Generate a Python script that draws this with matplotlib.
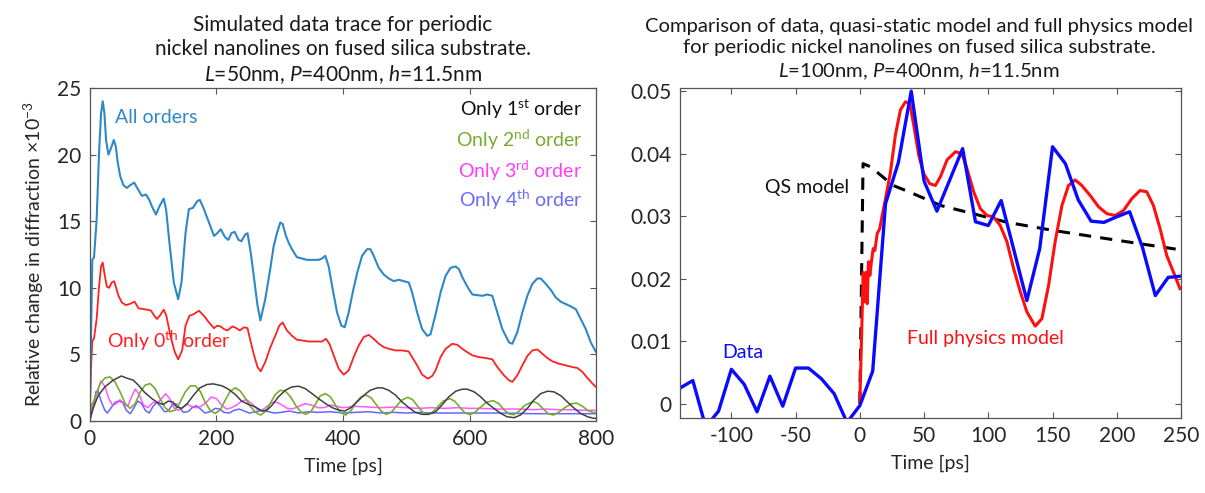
import numpy as np
import matplotlib
matplotlib.use("Agg")
import matplotlib.pyplot as plt

plt.rcParams['font.family'] = ['Lato', 'DejaVu Sans']
plt.rcParams['mathtext.fontset'] = 'custom'
plt.rcParams['mathtext.rm'] = 'Lato'
plt.rcParams['mathtext.it'] = 'Lato:italic'
plt.rcParams['axes.unicode_minus'] = False

# ---------------- left panel: simulated traces (y in units of 1e-3) ----------------
t_all = [0, 2, 4.2, 6.9, 11, 14.8, 18, 20.6, 23.3, 25.9, 29.6, 33.9, 38.1, 41.3, 44.4, 48.1, 53.4, 58.7, 64,
         70.4, 76.2, 82.5, 88.9, 94.2, 98.4, 104.7, 110, 116.9, 120.6, 125.9, 132.8, 139.7, 145, 151.3, 156.6,
         163, 169.8, 174, 180.4, 188.3, 196.3, 201.5, 206.8, 213.7, 219, 223.8, 229, 234.9, 239.6, 245.5, 249.2,
         254.4, 259.7, 265, 269.5, 277.2, 285, 290.4, 295.6, 300.9, 304.6, 309.8, 314, 319.3, 327.2, 335.1, 343,
         351, 361.5, 366.8, 372, 377.3, 383.6, 390.5, 397.3, 402.6, 408.9, 415.2, 422.1, 430, 437.9, 443.1,
         448.4, 456.3, 464.2, 472.1, 480, 487.9, 495.8, 503.7, 509, 516.9, 524.8, 532.7, 538, 546, 553.9, 561.8,
         569.7, 577.6, 582.9, 588.2, 596, 604, 611.9, 619.8, 627.7, 635.6, 643.5, 651.4, 662, 667.2, 675.1, 683,
         690.9, 698.8, 706.7, 712, 719.9, 727.8, 735.7, 743.6, 751.5, 759.4, 767.3, 775.2, 783.1, 791, 799]
y_all = [0.2, 6, 12.1, 12.3, 15.1, 20.1, 23.1, 24.0, 23.1, 21.1, 20.0, 20.5, 21.1, 20.6, 19.4, 18.4, 17.7, 17.5,
         17.7, 17.9, 17.4, 16.9, 17.0, 16.6, 16.1, 15.5, 16.1, 16.7, 15.9, 13.4, 10.4, 9.15, 10.4, 14.1, 15.9,
         16.0, 16.5, 16.6, 15.9, 14.9, 13.9, 14.1, 14.4, 13.8, 13.6, 14.1, 14.2, 13.6, 13.5, 14.0, 14.1, 12.6,
         10.6, 8.66, 7.55, 9.15, 11.4, 13.1, 14.1, 14.9, 14.8, 13.9, 13.4, 12.9, 12.3, 12.2, 12.1, 12.1, 12.1,
         12.2, 12.4, 11.6, 9.9, 8.16, 7.16, 7.04, 8.16, 9.65, 11.1, 12.4, 12.9, 12.9, 12.4, 11.5, 11.0, 10.7,
         10.5, 10.6, 10.5, 10.4, 9.65, 8.16, 6.9, 6.4, 6.5, 8.0, 9.65, 10.9, 11.5, 11.6, 11.4, 10.8, 10.1, 9.5,
         9.45, 9.4, 9.5, 9.4, 8.16, 6.9, 5.9, 5.8, 6.67, 8.16, 9.4, 10.3, 10.7, 10.7, 10.3, 9.85, 9.28, 8.96,
         8.78, 8.6, 8.4, 7.66, 6.9, 5.9, 5.2]

t_o0 = [0, 2.1, 4.2, 6.9, 11.1, 14.8, 18, 20.6, 23.3, 27, 30.7, 34.9, 38.6, 41.8, 45.5, 50.8, 57.1, 64, 70.9,
        77.2, 85.2, 90.5, 96.8, 102, 106.3, 111.6, 116.9, 121.1, 127.5, 134.4, 139.7, 146, 151.3, 157.6, 164.5,
        172.5, 180.4, 188.3, 196.3, 201.5, 206.8, 212.1, 217.4, 225.4, 230.6, 237, 243.9, 249.2, 254.4, 259.7,
        265, 270, 277.2, 285, 293, 299.3, 304.6, 311.4, 319.3, 327.2, 335.1, 345.6, 356.2, 366.8, 373.1, 378.4,
        385.2, 393.1, 401, 408.9, 416.8, 424.7, 432.6, 440.5, 448.4, 456.3, 464.2, 472.1, 482.6, 493.2, 503.7,
        509, 516.9, 524.8, 534, 540.6, 546, 553.9, 561.8, 572.4, 580.3, 588.2, 596, 604, 614.5, 625, 635.6,
        643.5, 654, 662, 667.2, 675.1, 683, 690.9, 698.8, 706.7, 714.6, 722.5, 730.4, 741, 751.5, 762, 770,
        777.9, 785.8, 793.7, 799]
y_o0 = [0.1, 3.9, 6.0, 6.2, 7.7, 10.1, 11.6, 11.9, 11.1, 10.1, 10.0, 10.4, 10.5, 10.0, 9.4, 8.9, 8.7, 8.8, 8.96,
        8.46, 8.4, 8.36, 8.3, 7.9, 7.66, 7.96, 8.36, 7.9, 6.4, 5.17, 4.63, 5.3, 7.16, 7.9, 8.03, 8.28, 7.9, 7.4,
        6.97, 7.16, 7.1, 6.9, 6.8, 7.1, 7.0, 6.8, 7.04, 6.97, 5.9, 4.9, 4.05, 3.73, 4.43, 5.5, 6.4, 7.16, 7.4,
        6.8, 6.4, 6.1, 6.05, 5.97, 5.97, 5.97, 6.17, 5.8, 4.93, 3.93, 3.48, 3.8, 4.8, 5.67, 6.3, 6.47, 6.17, 5.8,
        5.55, 5.42, 5.3, 5.3, 5.22, 4.8, 4.18, 3.48, 3.18, 3.38, 3.8, 4.8, 5.42, 5.8, 5.72, 5.42, 5.17, 4.93,
        4.8, 4.73, 4.63, 4.05, 3.43, 3.06, 2.94, 3.43, 4.18, 4.88, 5.3, 5.37, 5.05, 4.73, 4.48, 4.3, 4.18, 4.05,
        3.98, 3.68, 3.23, 2.81, 2.56]

t_o1 = [0, 5, 10, 14, 24, 37, 50, 58, 69, 77, 87, 98, 107, 116, 124, 131, 137, 145, 153, 164, 174, 185, 195,
        209, 219, 230, 240, 251, 261, 272, 280, 288, 298, 309, 319, 330, 340, 351, 361, 372, 383, 393, 403, 412,
        422, 433, 443, 454, 462, 472, 483, 493, 504, 514, 525, 535, 546, 556, 567, 578, 588, 596, 607, 617, 628,
        638, 649, 659, 670, 680, 691, 701, 712, 723, 733, 744, 754, 765, 775, 786, 796, 800]
y_o1 = [0, 0.9, 1.5, 1.94, 2.56, 3.06, 3.38, 3.23, 3.06, 2.69, 2.14, 1.69, 1.39, 1.24, 1.49, 1.44, 1.07, 0.95,
        1.24, 1.94, 2.49, 2.74, 2.79, 2.64, 2.39, 1.99, 1.49, 1.24, 1.07, 0.75, 0.82, 1.19, 1.82, 2.31, 2.56,
        2.61, 2.44, 2.06, 1.69, 1.32, 1.0, 0.82, 0.75, 1.0, 1.44, 1.94, 2.31, 2.49, 2.49, 2.31, 1.94, 1.44, 1.0,
        0.65, 0.5, 0.5, 0.7, 1.19, 1.82, 2.24, 2.39, 2.39, 2.19, 1.82, 1.32, 0.95, 0.57, 0.32, 0.25, 0.45, 0.95,
        1.57, 2.06, 2.24, 2.19, 1.89, 1.44, 0.95, 0.57, 0.32, 0.2, 0.2]

t_o2 = [0, 3, 8.4, 16.3, 24.2, 32, 40, 48, 56, 64, 72, 80, 87.5, 95.4, 103.3, 111, 119, 127, 135, 143, 151, 159,
        167, 175, 182, 190, 198, 206, 214, 222, 230, 238, 246, 254, 262, 270, 277, 285, 293, 301, 309, 317, 325,
        333, 341, 349, 357, 364, 372, 380, 388, 396, 404, 412, 420, 428, 436, 444, 452, 460, 468, 476, 484, 492,
        502, 510, 518, 526, 534, 542, 550, 558, 568, 576, 584, 592, 600, 608, 616, 626, 637, 646, 654, 662, 670,
        678, 686, 700, 708, 716, 724, 732, 740, 750, 760, 769, 778, 786, 794, 800]
y_o2 = [0.07, 1.2, 1.7, 2.8, 3.23, 3.31, 2.94, 2.19, 1.32, 0.95, 1.32, 2.19, 2.69, 2.81, 2.44, 1.69, 1.0, 0.7,
        0.82, 1.44, 2.19, 2.64, 2.64, 2.19, 1.44, 0.82, 0.57, 0.82, 1.57, 2.24, 2.49, 2.24, 1.69, 1.07, 0.65,
        0.45, 0.7, 1.32, 1.99, 2.31, 2.24, 1.82, 1.19, 0.7, 0.5, 0.7, 1.32, 1.89, 2.06, 1.82, 1.19, 0.65, 0.45,
        0.75, 1.35, 1.8, 1.95, 1.75, 1.25, 0.75, 0.5, 0.65, 1.1, 1.55, 1.78, 1.6, 1.1, 0.65, 0.5, 0.7, 1.1, 1.5,
        1.68, 1.5, 1.05, 0.62, 0.48, 0.65, 1.0, 1.4, 1.53, 1.3, 0.85, 0.52, 0.48, 0.75, 1.15, 1.48, 1.3, 0.9,
        0.55, 0.45, 0.65, 1.0, 1.3, 1.34, 1.1, 0.8, 0.65, 0.6]

t_o3 = [0, 6, 12, 18, 24, 30, 36, 42, 48, 54, 60, 66, 72, 78, 85, 92, 100, 108, 114, 120, 126, 133, 140, 147,
        153, 160, 168, 176, 184, 192, 200, 208, 216, 224, 232, 240, 248, 256, 264, 272, 280, 288, 296, 304, 312,
        320, 330, 340, 350, 360, 370, 380, 390, 400, 420, 440, 460, 480, 500, 520, 540, 560, 580, 600, 620, 640,
        660, 680, 700, 720, 740, 760, 780, 800]
y_o3 = [0, 1.0, 2.2, 3.0, 2.6, 1.7, 1.2, 1.3, 1.6, 1.3, 1.1, 1.8, 2.4, 2.0, 1.2, 1.0, 1.4, 1.4, 1.7, 2.05, 1.7,
        1.0, 0.8, 1.0, 1.3, 1.1, 1.0, 1.1, 1.4, 1.8, 1.7, 1.2, 0.9, 1.0, 1.2, 1.5, 1.6, 1.3, 0.9, 0.8, 1.1, 1.4,
        1.4, 1.2, 0.95, 0.9, 1.1, 1.3, 1.2, 1.0, 1.0, 1.2, 1.1, 1.0, 1.1, 1.05, 1.0, 1.05, 1.0, 0.95, 1.0, 0.95,
        1.0, 0.95, 0.95, 0.9, 0.9, 0.9, 0.85, 0.9, 0.85, 0.85, 0.8, 0.8]

t_o4 = [0, 5, 10, 13, 18, 24, 28, 34, 40, 46, 52, 58, 64, 70, 76, 82, 88, 94, 100, 106, 112, 118, 124, 130, 136,
        142, 148, 155, 162, 168, 175, 182, 190, 198, 205, 212, 220, 228, 236, 244, 252, 262, 272, 282, 292, 302,
        315, 330, 345, 360, 380, 400, 420, 440, 460, 480, 500, 520, 540, 560, 600, 650, 700, 750, 800]
y_o4 = [0, 1.0, 2.2, 2.3, 1.5, 0.8, 0.6, 1.0, 1.4, 1.5, 1.4, 0.8, 0.55, 1.0, 1.5, 1.3, 0.8, 0.6, 1.1, 1.4, 1.1,
        0.7, 0.75, 1.2, 1.3, 1.0, 0.65, 0.7, 1.0, 1.15, 0.9, 0.6, 0.7, 0.95, 0.9, 0.65, 0.6, 0.8, 0.9, 0.75, 0.6,
        0.7, 0.8, 0.7, 0.6, 0.65, 0.75, 0.6, 0.7, 0.65, 0.7, 0.6, 0.65, 0.7, 0.6, 0.65, 0.6, 0.65, 0.6, 0.6, 0.6,
        0.6, 0.55, 0.55, 0.55]

# ---------------- right panel: data vs models ----------------
t_data = list(range(-140, 251, 10))
y_data = [0.0025, 0.0037, -0.0037, -0.0012, 0.0055, 0.0031, -0.0013, 0.0044, -0.0004, 0.0057, 0.0057, 0.0040,
          0.0016, -0.0030, -0.0003, 0.0052, 0.0320, 0.0386, 0.0500, 0.0356, 0.0308, 0.0358, 0.0408, 0.0291,
          0.0285, 0.0325, 0.0245, 0.0165, 0.0248, 0.0411, 0.0384, 0.0326, 0.0292, 0.0290, 0.0299, 0.0307,
          0.0250, 0.0173, 0.0202, 0.0204]

t_full = [0, 1.3, 2.6, 3.6, 4.7, 5.7, 6.7, 7.8, 9, 10.4, 11.7, 13.5, 15.5, 17.4, 20, 23.8, 27.7, 31.6, 35.5,
          38.9, 42, 45.9, 49.7, 54.4, 58.8, 62.7, 67.9, 74.4, 79.5, 83.4, 88.6, 93.8, 99, 104, 109.3, 114.5,
          119.7, 124.9, 130, 136.5, 141.7, 146.9, 152, 157.3, 162.4, 167.6, 172.8, 179.3, 185.8, 192.2, 198.7,
          205.2, 211.7, 218.1, 223.3, 228.5, 233.7, 238.9, 244, 249.2]
y_full = [0.0003, 0.0104, 0.0210, 0.0163, 0.0210, 0.0160, 0.0227, 0.0205, 0.0227, 0.0248, 0.0245, 0.0272,
          0.0280, 0.0301, 0.0328, 0.0370, 0.0430, 0.0470, 0.0483, 0.0480, 0.0445, 0.0397, 0.0368, 0.0352,
          0.0349, 0.0363, 0.0390, 0.0403, 0.0400, 0.0376, 0.0339, 0.0312, 0.0301, 0.0299, 0.0285, 0.0259,
          0.0216, 0.0179, 0.0147, 0.0124, 0.0136, 0.0189, 0.0259, 0.0317, 0.0349, 0.0358, 0.0349, 0.0333,
          0.0315, 0.0304, 0.0301, 0.0309, 0.0328, 0.0341, 0.0339, 0.0317, 0.0280, 0.0237, 0.0211, 0.0184]

t_qs = [0, 2.5, 8.3, 26, 37, 63, 115, 151, 192, 250]
y_qs = [0.0, 0.0384, 0.0379, 0.0349, 0.0340, 0.0317, 0.0290, 0.0277, 0.0264, 0.0246]

AX_COL = '#262626'

fig = plt.figure(figsize=(12.05, 4.93), dpi=100)
ax1 = fig.add_axes([0.0744, 0.146, 0.4206, 0.6755])
ax2 = fig.add_axes([0.5643, 0.152, 0.4158, 0.6695])


def style_axes(ax):
    for s in ax.spines.values():
        s.set_color('#555555')
        s.set_linewidth(0.9)
    ax.tick_params(direction='in', length=4, width=0.8, colors='#555555', labelcolor=AX_COL,
                   labelsize=15, top=True, right=True, pad=6)


# left panel
ax1.plot(t_o4, y_o4, color='#4a4aff', lw=1.1, alpha=0.85)
ax1.plot(t_o3, y_o3, color='#ff3cff', lw=1.1, alpha=0.85)
ax1.plot(t_o2, y_o2, color='#77ac30', lw=1.2)
ax1.plot(t_o1, y_o1, color='#404040', lw=1.1)
ax1.plot(t_o0, y_o0, color='#ff2020', lw=1.3)
ax1.plot(t_all, y_all, color='#2e88c8', lw=1.5)
ax1.set_xlim(0, 800)
ax1.set_ylim(0, 25)
ax1.set_xticks([0, 200, 400, 600, 800])
ax1.set_yticks([0, 5, 10, 15, 20, 25])
style_axes(ax1)
ax1.set_xlabel('Time [ps]', fontsize=14, color=AX_COL, labelpad=6)
ax1.set_ylabel('Relative change in diffraction $\\times$10$^{-3}$', fontsize=14, color=AX_COL, labelpad=8)
ax1.set_title('Simulated data trace for periodic\nnickel nanolines on fused silica substrate.\n'
              '$\\mathit{L}$=50nm, $\\mathit{P}$=400nm, $\\mathit{h}$=11.5nm',
              fontsize=15, color='#1a1a1a', linespacing=1.25, pad=5)

ax1.text(40, 22.8, 'All orders', color='#2e88c8', fontsize=14, va='center')
ax1.text(27, 6.0, 'Only 0$^{\\mathrm{th}}$ order', color='#ff2020', fontsize=14, va='center')
ax1.text(778, 23.4, 'Only 1$^{\\mathrm{st}}$ order', color='#111111', fontsize=14, va='center', ha='right')
ax1.text(778, 21.1, 'Only 2$^{\\mathrm{nd}}$ order', color='#77ac30', fontsize=14, va='center', ha='right')
ax1.text(778, 18.8, 'Only 3$^{\\mathrm{rd}}$ order', color='#ff3cff', fontsize=14, va='center', ha='right')
ax1.text(778, 16.6, 'Only 4$^{\\mathrm{th}}$ order', color='#6a6aff', fontsize=14, va='center', ha='right')

# right panel
ax2.plot(t_qs, y_qs, color='black', lw=2.2, ls=(0, (4, 3)))
ax2.plot(t_full, y_full, color='#ff1010', lw=2.2)
ax2.plot(t_data, y_data, color='#0a0aff', lw=2.4)
ax2.set_xlim(-140, 250)
ax2.set_ylim(-0.0023, 0.0505)
ax2.set_xticks([-100, -50, 0, 50, 100, 150, 200, 250])
ax2.set_yticks([0, 0.01, 0.02, 0.03, 0.04, 0.05])
ax2.set_yticklabels(['0', '0.01', '0.02', '0.03', '0.04', '0.05'])
style_axes(ax2)
ax2.set_xlabel('Time [ps]', fontsize=14, color=AX_COL, labelpad=6)
ax2.set_title('Comparison of data, quasi-static model and full physics model\n'
              'for periodic nickel nanolines on fused silica substrate.\n'
              '$\\mathit{L}$=100nm, $\\mathit{P}$=400nm, $\\mathit{h}$=11.5nm',
              fontsize=14.6, color='#1a1a1a', linespacing=1.32, pad=8, x=0.477)

ax2.text(-8, 0.0346, 'QS model', color='#111111', fontsize=14, va='center', ha='right')
ax2.text(-107, 0.0082, 'Data', color='#0a0aff', fontsize=14, va='center')
ax2.text(37, 0.0104, 'Full physics model', color='#ff1010', fontsize=14, va='center')

fig.savefig('out.png', dpi=100)
